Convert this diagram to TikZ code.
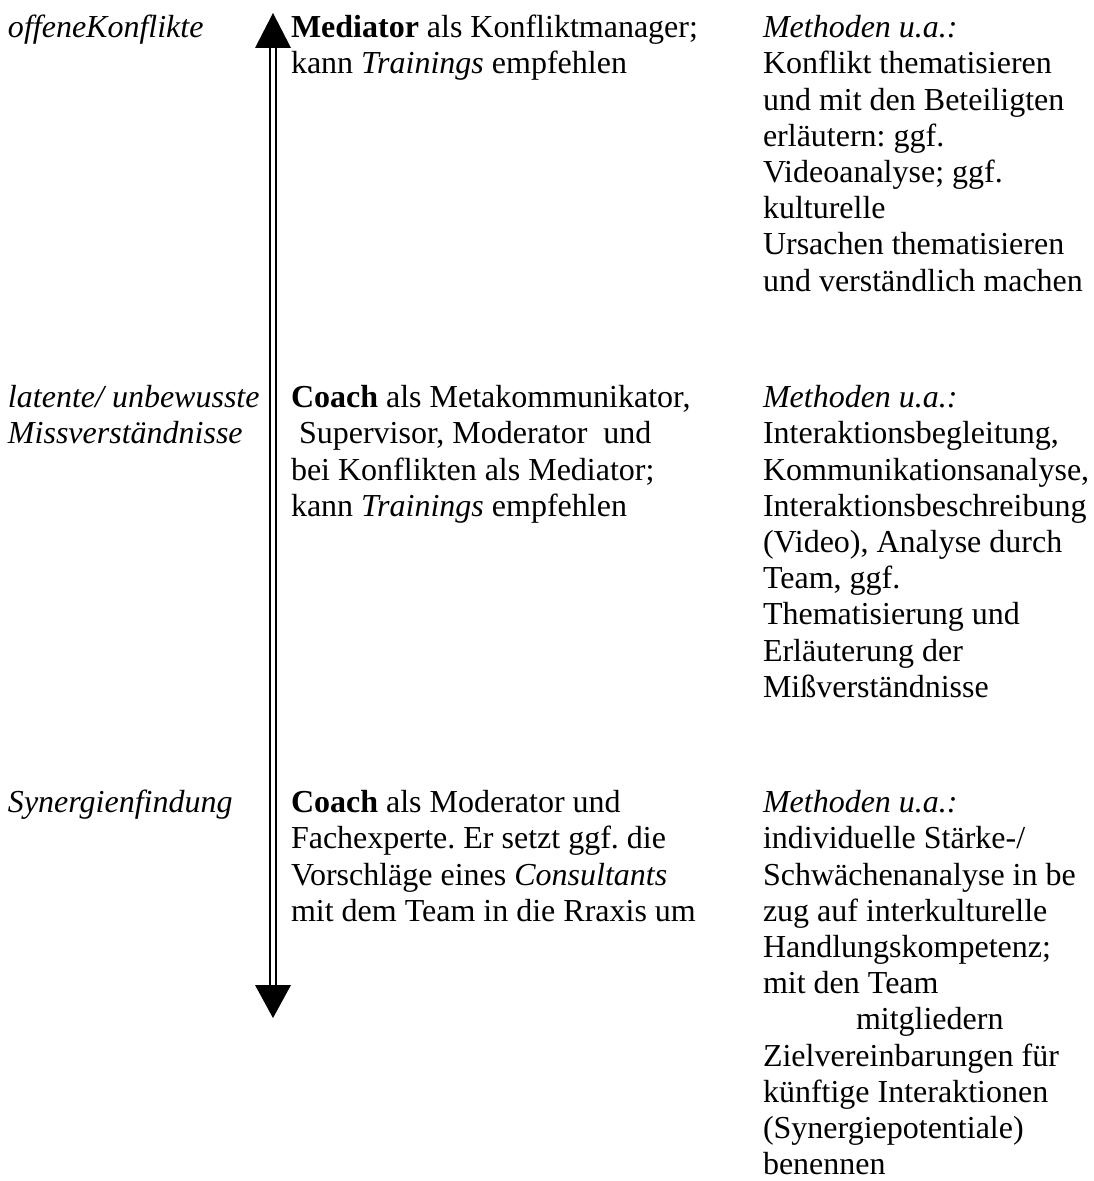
\documentclass[tikz,border=0pt]{standalone}
\usepackage{fontspec}
\setmainfont{Liberation Serif}
\frenchspacing
\begin{document}
\begin{tikzpicture}[x=0.5pt,y=-0.5pt,
  txt/.style={anchor=north west,inner sep=0pt,outer sep=0pt,align=left,
    font=\fontsize{16pt}{18.1pt}\selectfont\frenchspacing},
  rail/.style={line width=1.1pt,black},
  head/.style={fill=black,draw=none}]
\useasboundingbox (0,0) rectangle (1093,1181);
% arrow
\coordinate (topbase) at (273,48);
\coordinate (botbase) at (273,985);
\coordinate (toptip) at (273,13);
\coordinate (bottip) at (273,1018);
\draw[rail] ([xshift=-1.5pt]topbase) -- ([xshift=-1.5pt]botbase);
\draw[rail] ([xshift=1.5pt]topbase) -- ([xshift=1.5pt]botbase);
\fill[head] (toptip) -- ([xshift=-9pt]topbase) -- ([xshift=9pt]topbase) -- cycle;
\fill[head] (bottip) -- ([xshift=-9pt]botbase) -- ([xshift=9pt]botbase) -- cycle;
% left column
\node[txt] (l1) at (8,12.4) {\strut\textit{offeneKonflikte}};
\node[txt] (l2) at (8,382.4) {\strut\textit{latente/ unbewusste}\\\textit{Missverständnisse}};
\node[txt] (l3) at (8,787.4) {\strut\textit{Synergienfindung}};
% middle column
\node[txt] (m1) at (291,12.4) {\strut\textbf{Mediator} als Konfliktmanager;\\kann \textit{Trainings} empfehlen};
\node[txt] (m2) at (291,382.4) {\strut\textbf{Coach} als Metakommunikator,\\\hspace*{4pt}Supervisor, Moderator\ \ und\\bei Konflikten als Mediator;\\kann \textit{Trainings} empfehlen};
\node[txt] (m3) at (291,787.4) {\strut\textbf{Coach} als Moderator und\\Fachexperte. Er setzt ggf. die\\Vorschläge eines \textit{Consultants}\\mit dem Team in die Rraxis um};
% right column
\node[txt] (r1) at (763,12.4) {\strut\textit{Methoden u.a.:}\\Konflikt thematisieren\\und mit den Beteiligten\\erläutern: ggf.\\Videoanalyse; ggf.\\kulturelle\\Ursachen thematisieren\\und verständlich machen};
\node[txt] (r2) at (763,382.4) {\strut\textit{Methoden u.a.:}\\Interaktionsbegleitung,\\Kommunikationsanalyse,\\Interaktionsbeschreibung\\(Video), Analyse durch\\Team, ggf.\\Thematisierung und\\Erläuterung der\\Mißverständnisse};
\node[txt] (r3) at (763,787.4) {\strut\textit{Methoden u.a.:}\\individuelle Stärke-/\\Schwächenanalyse in be\\zug auf interkulturelle\\Handlungskompetenz;\\mit den Team\\\hspace*{46.5pt}mitgliedern\\Zielvereinbarungen für\\künftige Interaktionen\\(Synergiepotentiale)\\benennen};
\end{tikzpicture}
\end{document}
